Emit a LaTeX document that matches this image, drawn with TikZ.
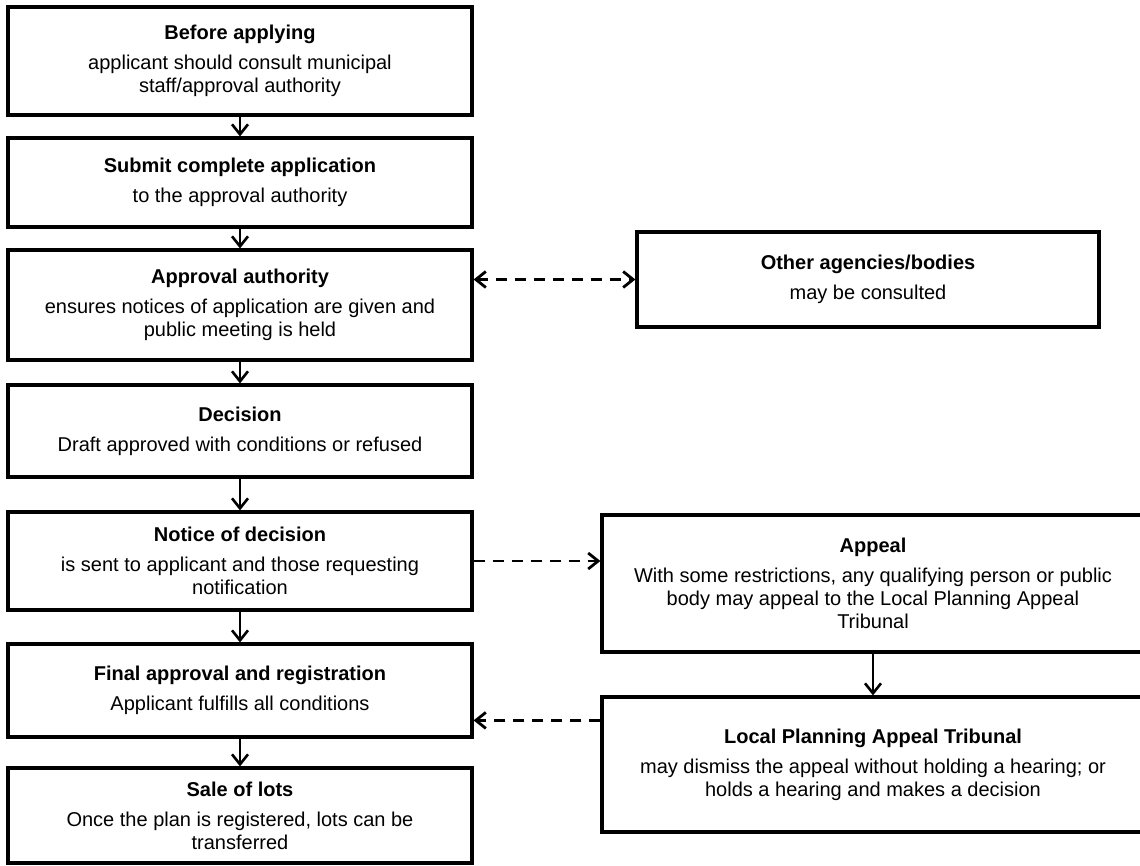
\documentclass[tikz,border=0pt]{standalone}
\usepackage{fontspec}
\setmainfont{Liberation Sans}
\usetikzlibrary{arrows.meta,calc}
\begin{document}
\begin{tikzpicture}[x=1pt,y=-1pt,
  box/.style={draw, line width=3.2pt, align=center, inner sep=0pt,
    font=\fontsize{20}{23}\selectfont},
  lbox/.style={box, minimum width=464pt},
  rbox/.style={box, minimum width=542pt},
  tip/.style={},
  flow/.style={line width=2pt, -{Straight Barb[length=10pt,width=16pt,line width=2.6pt]}},
  dflow/.style={line width=2.8pt, dash pattern=on 11pt off 8pt,
    -{Straight Barb[length=10pt,width=16pt,line width=2.8pt]}},
  ddflow/.style={dflow, {Straight Barb[length=10pt,width=16pt,line width=2.8pt]}-{Straight Barb[length=10pt,width=16pt,line width=2.8pt]}}]
\useasboundingbox (0,0) rectangle (1140,865);

\node[lbox, minimum height=108pt] (b1) at (240,61)
  {\textbf{Before applying}\\[7pt]applicant should consult municipal\\staff/approval authority};
\node[lbox, minimum height=89pt] (b2) at (240,182.5)
  {\textbf{Submit complete application}\\[7pt]to the approval authority};
\node[lbox, minimum height=110pt] (b3) at (240,305)
  {\textbf{Approval authority}\\[7pt]ensures notices of application are given and\\public meeting is held};
\node[lbox, minimum height=92pt] (b4) at (240,431)
  {\textbf{Decision}\\[7pt]Draft approved with conditions or refused};
\node[lbox, minimum height=98pt] (b5) at (240,561)
  {\textbf{Notice of decision}\\[7pt]is sent to applicant and those requesting\\notification};
\node[lbox, minimum height=93pt] (b6) at (240,690.5)
  {\textbf{Final approval and registration}\\[7pt]Applicant fulfills all conditions};
\node[lbox, minimum height=95pt] (b7) at (240,815.5)
  {\textbf{Sale of lots}\\[7pt]Once the plan is registered, lots can be\\transferred};

\node[box, minimum width=462pt, minimum height=95pt] (oth) at (868,279.5)
  {\textbf{Other agencies/bodies}\\[7pt]may be consulted};
\node[rbox, minimum height=137pt] (ap) at (873,583.5)
  {\textbf{Appeal}\\[7pt]With some restrictions, any qualifying person or public\\body may appeal to the Local Planning Appeal\\Tribunal};
\node[rbox, minimum height=135pt] (tr) at (873,764.5)
  {\textbf{Local Planning Appeal Tribunal}\\[7pt]may dismiss the appeal without holding a hearing; or\\holds a hearing and makes a decision};

\draw[flow] (b1) -- (b2);
\draw[flow] (b2) -- (b3);
\draw[flow] (b3) -- (b4);
\draw[flow] (b4) -- (b5);
\draw[flow] (b5) -- (b6);
\draw[flow] (b6) -- (b7);
\draw[flow] (ap) -- (tr);

\draw[ddflow] (b3.east |- oth.west) -- (oth.west);
\draw[dflow] (b5.east) -- (b5.east -| ap.west);
\coordinate (tl) at ($(tr.north west)+(0,25)$);
\draw[dflow] (tl) -- (tl -| b6.east);
\end{tikzpicture}
\end{document}
